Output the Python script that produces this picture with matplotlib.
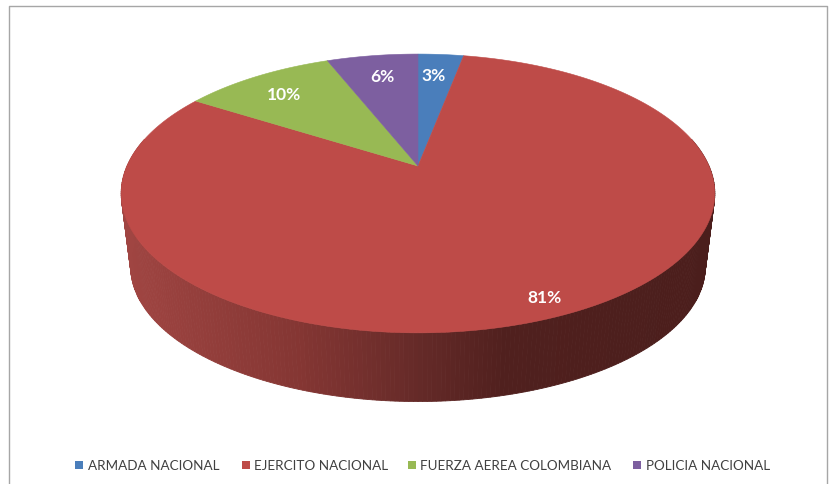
import numpy as np
import matplotlib
matplotlib.use("Agg")
import matplotlib.pyplot as plt
from matplotlib.colors import LinearSegmentedColormap
from matplotlib.patches import Polygon, Rectangle

categories = ["ARMADA NACIONAL", "EJERCITO NACIONAL", "FUERZA AEREA COLOMBIANA", "POLICIA NACIONAL"]
values = [3, 81, 10, 6]
colors = ["#4a7ebb", "#be4b48", "#98b954", "#7d5fa0"]

plt.rcParams["font.family"] = ["Lato", "DejaVu Sans"]

# perspective used for the pie disc, all in pixels
CX, CY = 418, 167
RX, RY, PERSP = 291, 134, 0.197
BOTTOM_CY, BOTTOM_SCALE = 241, 0.968


def project(theta, cy=CY, scale=1.0):
    # theta runs clockwise from twelve o'clock
    d = 1 + PERSP * np.cos(theta)
    return CX + scale * RX * np.sin(theta) / d, cy - scale * RY * np.cos(theta) / d


fig = plt.figure(figsize=(8.31, 4.85), dpi=100)
ax = fig.add_axes([0, 0, 1, 1])
ax.set_xlim(0, 831)
ax.set_ylim(485, 0)
ax.axis("off")

# chart frame
ax.plot([8.5, 8.5, 827, 827], [485, 7, 7, 485], color="#a6a6a6", lw=1)

# side wall, shaded left to right in thin strips
wall_cmap = LinearSegmentedColormap.from_list(
    "wall",
    [(0.0, "#a04542"), (0.3, "#843633"), (0.5, "#652a28"), (0.65, "#50201e"), (1.0, "#4b1e1c")],
)
wall = np.radians(np.linspace(90, 270, 241))
for a, b in zip(wall[:-1], wall[1:]):
    tt = np.array([a, b])
    x_top, y_top = project(tt)
    x_bot, y_bot = project(tt, BOTTOM_CY, BOTTOM_SCALE)
    shade = wall_cmap((x_top.mean() - 121) / 594)
    ax.add_patch(Polygon(
        [(x_top[0], y_top[0]), (x_top[1], y_top[1]), (x_bot[1], y_bot[1]), (x_bot[0], y_bot[0])],
        closed=True, facecolor=shade, edgecolor=shade, lw=0.6,
    ))

# left and right shoulders of the wall, from the widest point of each ring
for side in [np.radians(np.linspace(78, 90, 20)), np.radians(np.linspace(270, 282, 20))]:
    x_top, y_top = project(side)
    x_bot, y_bot = project(side, BOTTOM_CY, BOTTOM_SCALE)
    shade = wall_cmap(0.0) if x_top.mean() < CX else wall_cmap(1.0)
    pts = np.column_stack([np.r_[x_top, x_bot[::-1]], np.r_[y_top, y_bot[::-1]]])
    ax.add_patch(Polygon(pts, closed=True, facecolor=shade, edgecolor=shade, lw=0.6, zorder=1))

# top face wedges
start = 0.0
total = sum(values)
for value, color in zip(values, colors):
    end = start + value / total * 2 * np.pi
    tt = np.linspace(start, end, 200)
    x_edge, y_edge = project(tt)
    pts = np.column_stack([np.r_[CX, x_edge], np.r_[CY, y_edge]])
    ax.add_patch(Polygon(pts, closed=True, facecolor=color, edgecolor=color, lw=0.4, zorder=3))
    start = end

# value labels
label_pos = [(434, 76), (544, 298), (284, 95), (382, 77)]
for value, (lx, ly) in zip(values, label_pos):
    ax.text(lx, ly, f"{value}%", color="white", fontsize=12.5, fontweight="bold",
            ha="center", va="center", zorder=4)

# legend row
legend_x = [75, 242, 408, 633]
for name, color, lx in zip(categories, colors, legend_x):
    ax.add_patch(Rectangle((lx, 462), 8, 8, facecolor=color, edgecolor="none"))
    ax.text(lx + 12.5, 466, name, color="#404040", fontsize=9.7, ha="left", va="center")

fig.savefig("out.png", dpi=100)
